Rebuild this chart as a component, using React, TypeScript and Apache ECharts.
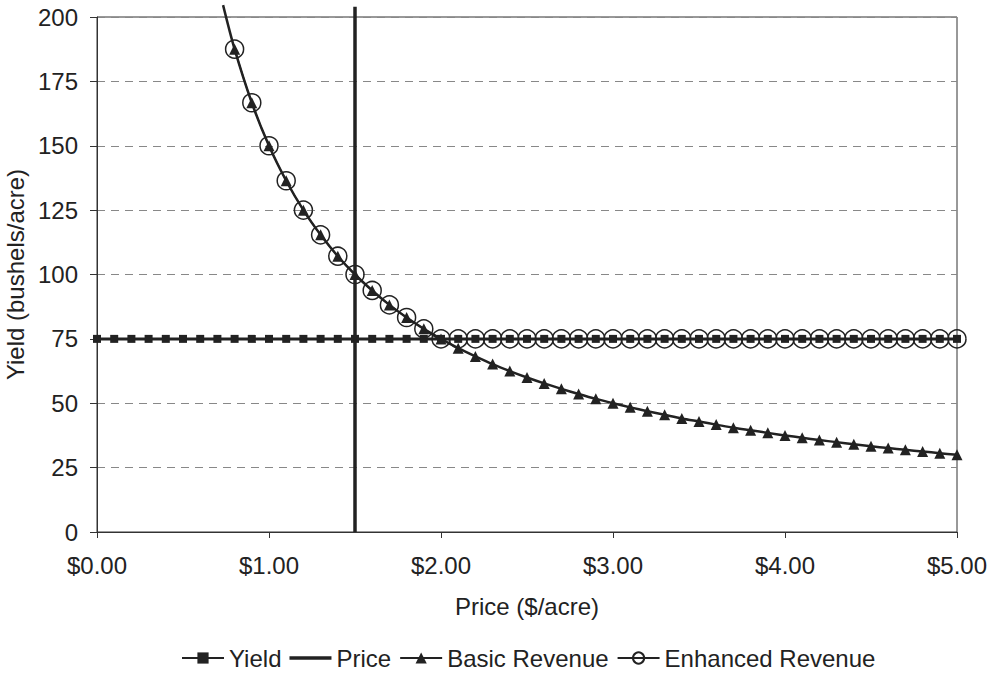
import React, { useEffect, useRef } from "react";
import * as echarts from "echarts";

// Price grid ($/acre) for the flat yield line
const yieldPrices = [
  0.0, 0.1, 0.2, 0.3, 0.4, 0.5, 0.6, 0.7, 0.8, 0.9,
  1.0, 1.1, 1.2, 1.3, 1.4, 1.5, 1.6, 1.7, 1.8, 1.9,
  2.0, 2.1, 2.2, 2.3, 2.4, 2.5, 2.6, 2.7, 2.8, 2.9,
  3.0, 3.1, 3.2, 3.3, 3.4, 3.5, 3.6, 3.7, 3.8, 3.9,
  4.0, 4.1, 4.2, 4.3, 4.4, 4.5, 4.6, 4.7, 4.8, 4.9, 5.0,
];
const yieldValues = [
  75, 75, 75, 75, 75, 75, 75, 75, 75, 75,
  75, 75, 75, 75, 75, 75, 75, 75, 75, 75,
  75, 75, 75, 75, 75, 75, 75, 75, 75, 75,
  75, 75, 75, 75, 75, 75, 75, 75, 75, 75,
  75, 75, 75, 75, 75, 75, 75, 75, 75, 75, 75,
];

// Revenue curves sampled from $0.80 to $5.00
const revenuePrices = [
  0.8, 0.9, 1.0, 1.1, 1.2, 1.3, 1.4, 1.5, 1.6, 1.7, 1.8, 1.9,
  2.0, 2.1, 2.2, 2.3, 2.4, 2.5, 2.6, 2.7, 2.8, 2.9,
  3.0, 3.1, 3.2, 3.3, 3.4, 3.5, 3.6, 3.7, 3.8, 3.9,
  4.0, 4.1, 4.2, 4.3, 4.4, 4.5, 4.6, 4.7, 4.8, 4.9, 5.0,
];
const basicRevenue = [
  187.5, 166.7, 150.0, 136.4, 125.0, 115.4, 107.1, 100.0, 93.8, 88.2, 83.3, 78.9,
  75.0, 71.4, 68.2, 65.2, 62.5, 60.0, 57.7, 55.6, 53.6, 51.7,
  50.0, 48.4, 46.9, 45.5, 44.1, 42.9, 41.7, 40.5, 39.5, 38.5,
  37.5, 36.6, 35.7, 34.9, 34.1, 33.3, 32.6, 31.9, 31.3, 30.6, 30.0,
];
const enhancedRevenue = [
  187.5, 166.7, 150.0, 136.4, 125.0, 115.4, 107.1, 100.0, 93.8, 88.2, 83.3, 78.9,
  75, 75, 75, 75, 75, 75, 75, 75, 75, 75,
  75, 75, 75, 75, 75, 75, 75, 75, 75, 75,
  75, 75, 75, 75, 75, 75, 75, 75, 75, 75, 75,
];
// Where the basic curve leaves the top of the plot
const basicCurveStart: [number, number] = [0.733, 204.6];

// Price line position
const priceLine: [number, number][] = [
  [1.5, 0],
  [1.5, 204],
];

const xTicks = [0, 1, 2, 3, 4, 5];
const yTicks = [0, 25, 50, 75, 100, 125, 150, 175, 200];

const INK = "#222";
const FONT = "Liberation Sans, Arial, sans-serif";

export default function App() {
  const ref = useRef<HTMLDivElement>(null);

  useEffect(() => {
    if (!ref.current) return;
    const chart = echarts.init(ref.current, undefined, { renderer: "svg" });

    const basicData: any[] = [
      { value: basicCurveStart, symbol: "none" },
      ...revenuePrices.map((p, i) => [p, basicRevenue[i]]),
    ];

    chart.setOption({
      animation: false,
      backgroundColor: "#fff",
      textStyle: { fontFamily: FONT, color: INK },
      grid: {
        left: 97,
        right: 38,
        top: 17,
        bottom: 141,
        show: true,
        borderColor: "#333",
        borderWidth: 1,
        containLabel: false,
        outerBoundsMode: "none",
      },
      legend: {
        bottom: -2,
        left: 176,
        itemGap: 8,
        itemWidth: 42,
        itemHeight: 14,
        textStyle: { fontSize: 24, color: INK, fontFamily: FONT },
        data: [
          "Yield",
          { name: "Price", icon: "path://M0,0 L42,0 L42,3.5 L0,3.5 Z" },
          "Basic Revenue",
          "Enhanced Revenue",
        ],
      },
      xAxis: {
        type: "value",
        min: xTicks[0],
        max: xTicks[xTicks.length - 1],
        interval: 1,
        name: "Price ($/acre)",
        nameLocation: "middle",
        nameGap: 62,
        nameTextStyle: { fontSize: 24, color: INK, fontFamily: FONT },
        axisLine: { lineStyle: { color: "#333", width: 1 } },
        axisTick: { show: true, length: 6, lineStyle: { color: "#333" } },
        axisLabel: {
          fontSize: 24,
          color: INK,
          margin: 21,
          fontFamily: FONT,
          formatter: (v: number) => `$${v.toFixed(2)}`,
        },
        splitLine: { show: false },
      },
      yAxis: {
        type: "value",
        min: yTicks[0],
        max: yTicks[yTicks.length - 1],
        interval: 25,
        name: "Yield (bushels/acre)",
        nameLocation: "middle",
        nameGap: 67,
        nameTextStyle: { fontSize: 24, color: INK, fontFamily: FONT },
        axisLine: { show: true, lineStyle: { color: "#333", width: 1 } },
        axisTick: { show: true, length: 7, lineStyle: { color: "#333" } },
        axisLabel: { fontSize: 24, color: INK, margin: 19, fontFamily: FONT },
        splitLine: { show: true, lineStyle: { color: "#888", type: [8, 6], width: 1 } },
      },
      series: [
        {
          name: "Yield",
          type: "line",
          data: yieldPrices.map((p, i) => [p, yieldValues[i]]),
          symbol: "rect",
          symbolSize: 8,
          lineStyle: { color: INK, width: 3 },
          itemStyle: { color: INK, borderWidth: 0 },
          z: 2,
        },
        {
          name: "Price",
          type: "line",
          data: priceLine,
          symbol: "none",
          clip: false,
          lineStyle: { color: INK, width: 3.5 },
          itemStyle: { color: INK },
          z: 3,
        },
        {
          name: "Basic Revenue",
          type: "line",
          data: basicData,
          smooth: 0.3,
          clip: false,
          symbol: "triangle",
          symbolSize: 11,
          lineStyle: { color: INK, width: 2.5 },
          itemStyle: { color: INK, borderWidth: 0 },
          z: 4,
        },
        {
          name: "Enhanced Revenue",
          type: "line",
          data: revenuePrices.map((p, i) => [p, enhancedRevenue[i]]),
          smooth: 0.3,
          symbol: "circle",
          symbolSize: 18,
          lineStyle: { color: INK, width: 1.5 },
          itemStyle: { color: "rgba(255,255,255,0)", borderColor: INK, borderWidth: 1.5 },
          z: 5,
        },
      ],
    });

    return () => chart.dispose();
  }, []);

  return <div ref={ref} style={{ width: 995, height: 673, position: "absolute", left: 0, top: 0 }} />;
}
